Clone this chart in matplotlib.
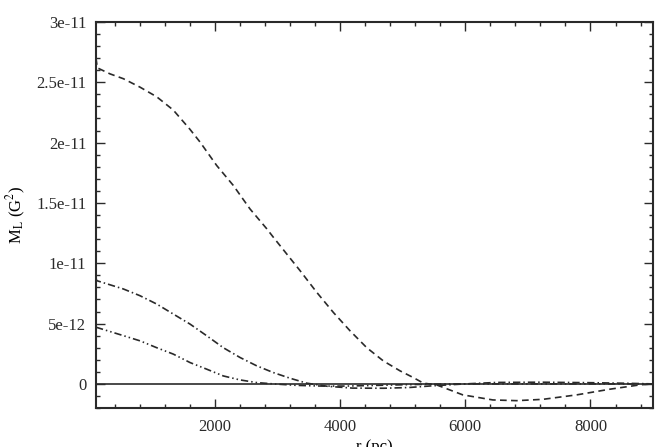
import numpy as np
import matplotlib
matplotlib.use('Agg')
import matplotlib.pyplot as plt
from matplotlib.ticker import MultipleLocator

plt.rcParams['font.family'] = ['Liberation Serif', 'DejaVu Serif']
plt.rcParams['mathtext.fontset'] = 'stix'

#%% values (M_L in units of 1e-11)

r_dash = [100, 121, 324, 537, 803, 1070, 1335, 1602, 1762, 2029, 2294, 2561, 2828,
          2933, 3360, 3627, 3893, 4159, 4426, 4692, 4958, 5171, 5331, 5540, 5960,
          6440, 6820, 7240, 7780, 8310, 8790, 9000]
m_dash = [2.70, 2.62, 2.57, 2.53, 2.46, 2.38, 2.27, 2.11, 2.005, 1.81, 1.645, 1.45, 1.286,
          1.216, 0.939, 0.759, 0.592, 0.44, 0.30, 0.19, 0.108, 0.052, 0.006, -0.008, -0.091,
          -0.133, -0.139, -0.128, -0.091, -0.044, -0.008, 0.0]

r_dd = [100, 111, 537, 803, 1070, 1335, 1602, 1869, 2134, 2401, 2667, 2933, 3200,
        3467, 3800, 4200, 4700, 5100, 5500, 6000, 6500, 7200, 8000, 8600, 9000]
m_dd = [0.88, 0.856, 0.787, 0.731, 0.662, 0.579, 0.496, 0.399, 0.30, 0.219, 0.15, 0.094, 0.047,
        0.006, -0.02, -0.035, -0.036, -0.03, -0.015, 0.0, 0.012, 0.014, 0.01, 0.005, 0.0]

r_ddd = [100, 537, 803, 1070, 1335, 1602, 1869, 2134, 2401, 2667, 2933, 3300, 3700,
         4100, 4600, 5200, 5800, 6500, 9000]
m_ddd = [0.47, 0.40, 0.357, 0.30, 0.247, 0.177, 0.122, 0.066, 0.033, 0.011, 0.0, -0.012, -0.018,
         -0.018, -0.012, -0.005, 0.0, 0.0, 0.0]

scale = 1e-11

#%% plot

fig = plt.figure(figsize=(6.61, 4.47), dpi=100)
ax = fig.add_axes([0.1452, 0.0872, 0.8428, 0.8636])

lc = '#2a2a2a'
ax.axhline(0, color=lc, lw=1.2)
ax.plot(r_dash, np.array(m_dash)*scale, color=lc, lw=1.2, dashes=(4, 2.6))
ax.plot(r_dd, np.array(m_dd)*scale, color=lc, lw=1.2, dashes=(4.4, 1.8, 0.9, 1.8))
ax.plot(r_ddd, np.array(m_ddd)*scale, color=lc, lw=1.2,
        dashes=(4.4, 1.8, 0.9, 1.8, 0.9, 1.8))

ax.set_xlim(100, 9000)
ax.set_ylim(-2e-12, 3e-11)
ax.xaxis.set_minor_locator(MultipleLocator(400))
ax.yaxis.set_minor_locator(MultipleLocator(1e-12))
ax.set_yticks([0, 5e-12, 1e-11, 1.5e-11, 2e-11, 2.5e-11, 3e-11])
ax.set_yticklabels(['0', '5e-12', '1e-11', '1.5e-11', '2e-11', '2.5e-11', '3e-11'])
ax.set_xticks([2000, 4000, 6000, 8000])
ax.set_xticklabels(['2000', '4000', '6000', '8000'])

ax.tick_params(which='both', direction='in', top=True, right=True, labelsize=12,
               colors=lc)
ax.tick_params(which='major', length=6.5, width=1)
ax.tick_params(which='minor', length=3, width=1)
ax.tick_params(axis='x', pad=8)
ax.tick_params(axis='y', pad=7)
for s in ax.spines.values():
    s.set_linewidth(1.5)
    s.set_color(lc)

ax.set_xlabel('r (pc)', fontsize=12, labelpad=3)
ax.set_ylabel(r'M$_\mathrm{L}$ (G$^2$)', fontsize=12, labelpad=6)

fig.savefig('out.png', dpi=100)
